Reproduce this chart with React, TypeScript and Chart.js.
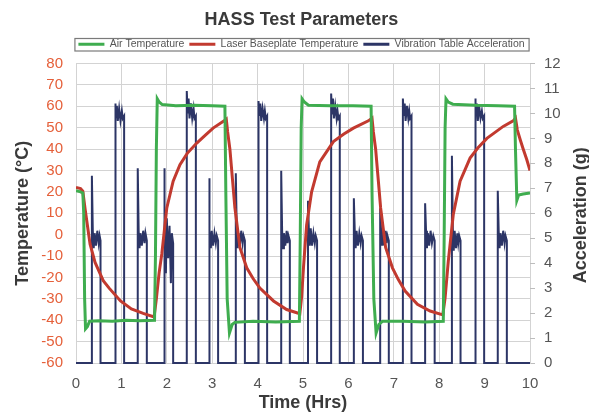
import { useEffect, useRef } from 'react';
import { Chart, registerables } from 'chart.js';

Chart.register(...registerables);

// ---------- data ----------
const chartTitle = 'HASS Test Parameters';
const seriesLabels = ['Air Temperature', 'Laser Baseplate Temperature', 'Vibration Table Acceleration'];
const hourTicks = [0, 1, 2, 3, 4, 5, 6, 7, 8, 9, 10];
const tempTicks = [-60, -50, -40, -30, -20, -10, 0, 10, 20, 30, 40, 50, 60, 70, 80];
const accTicks = [0, 1, 2, 3, 4, 5, 6, 7, 8, 9, 10, 11, 12];

const airTime = [0, 0.1, 0.15, 0.17, 0.19, 0.21, 0.25, 0.3, 0.5, 0.8, 1.1, 1.4, 1.73, 1.75, 1.77, 1.79, 1.83, 1.9, 2.2, 2.6, 3.0, 3.28, 3.3, 3.33, 3.38, 3.44, 3.5, 3.9, 4.4, 4.92, 4.94, 4.96, 4.98, 5.03, 5.12, 5.6, 6.1, 6.5, 6.52, 6.56, 6.61, 6.67, 6.75, 7.2, 7.7, 8.09, 8.11, 8.13, 8.15, 8.2, 8.3, 8.8, 9.3, 9.66, 9.68, 9.71, 9.75, 9.85, 10];
const airTemp = [20.5, 20, 19.5, 10, -30, -44, -43, -40.5, -40.2, -40.5, -40, -40.3, -40, -10, 40, 63.5, 62, 60.8, 60.3, 60.5, 60.2, 60, 20, -30, -46, -42, -41, -40.5, -40.8, -40.5, 0, 50, 63.5, 62, 60.5, 60.3, 60.3, 60, 20, -30, -46, -42, -40.5, -40.5, -40.8, -40.5, 0, 50, 63.5, 62, 61, 60.5, 60.3, 60, 40, 16, 18.5, 19, 19.5];

const laserTime = [0, 0.1, 0.15, 0.2, 0.24, 0.31, 0.42, 0.6, 0.73, 0.98, 1.22, 1.48, 1.72, 1.77, 1.83, 1.89, 2.0, 2.14, 2.29, 2.45, 2.66, 2.85, 3.02, 3.28, 3.31, 3.34, 3.39, 3.45, 3.5, 3.61, 3.76, 3.9, 4.05, 4.35, 4.64, 4.93, 4.97, 5.01, 5.08, 5.19, 5.37, 5.67, 5.9, 6.11, 6.44, 6.52, 6.55, 6.6, 6.66, 6.71, 6.82, 6.97, 7.1, 7.25, 7.52, 7.8, 8.08, 8.13, 8.2, 8.31, 8.46, 8.68, 8.85, 9.05, 9.41, 9.63, 9.68, 9.72, 9.79, 9.85, 9.93, 10];
const laserTemp = [22, 21.5, 20.3, 12, 6, -4.5, -13, -21.5, -25, -31, -34.7, -36.8, -38.5, -30, -18, -9, 12.5, 25, 32.7, 38, 42.8, 46.5, 49.8, 53.5, 54, 48, 40, 25, 12.5, -6, -15.5, -20.5, -25, -31, -35, -37, -29, -15.5, 4.5, 20, 34, 43.5, 47, 49.8, 53.2, 54.5, 48, 40, 25, 12.5, -6, -15.5, -21, -26.4, -32.6, -35.7, -37.5, -29.5, -12.5, 9.4, 25, 35.8, 40.5, 45, 50.6, 53.2, 54.5, 49, 44, 40, 35, 30];

const vibTime = [
  0,
  0.35, 0.35, 0.37, 0.39, 0.41, 0.44, 0.47, 0.50, 0.52, 0.54, 0.54,
  0.86, 0.86, 0.88, 0.90, 0.92, 0.95, 0.98, 1.01, 1.03, 1.06, 1.06,
  1.36, 1.36, 1.38, 1.40, 1.42, 1.45, 1.48, 1.51, 1.53, 1.56, 1.56,
  1.94, 1.94, 1.96, 1.98, 2.00, 2.03, 2.06, 2.09, 2.11, 2.14, 2.14,
  2.44, 2.44, 2.46, 2.48, 2.50, 2.53, 2.56, 2.59, 2.61, 2.64, 2.64,
  2.93, 2.93, 2.95, 2.97, 2.99, 3.02, 3.05, 3.08, 3.10, 3.13, 3.13,
  3.52, 3.52, 3.54, 3.56, 3.58, 3.61, 3.64, 3.67, 3.69, 3.72, 3.72,
  4.02, 4.02, 4.04, 4.06, 4.08, 4.11, 4.14, 4.16, 4.18, 4.21, 4.21,
  4.52, 4.52, 4.54, 4.56, 4.58, 4.61, 4.64, 4.66, 4.68, 4.71, 4.71,
  5.11, 5.11, 5.13, 5.15, 5.17, 5.20, 5.23, 5.26, 5.28, 5.31, 5.31,
  5.62, 5.62, 5.64, 5.66, 5.68, 5.71, 5.74, 5.76, 5.78, 5.81, 5.81,
  6.12, 6.12, 6.14, 6.16, 6.18, 6.21, 6.24, 6.27, 6.29, 6.32, 6.32,
  6.70, 6.70, 6.72, 6.74, 6.76, 6.79, 6.82, 6.84, 6.86, 6.89, 6.89,
  7.20, 7.20, 7.22, 7.24, 7.26, 7.29, 7.32, 7.34, 7.36, 7.39, 7.39,
  7.69, 7.69, 7.71, 7.73, 7.75, 7.78, 7.81, 7.84, 7.87, 7.90, 7.90,
  8.28, 8.28, 8.30, 8.32, 8.34, 8.37, 8.40, 8.42, 8.44, 8.47, 8.47,
  8.79, 8.79, 8.81, 8.83, 8.85, 8.88, 8.91, 8.94, 8.96, 8.99, 8.99,
  9.29, 9.29, 9.31, 9.33, 9.35, 9.38, 9.41, 9.44, 9.46, 9.49, 9.49,
  10,
];
const vibAcc = [
  0,
  0, 7.5, 5.3, 4.6, 5.2, 4.7, 5.3, 4.8, 5.1, 4.9, 0,
  0, 10.4, 9.8, 10.3, 9.7, 10.2, 9.7, 10.1, 9.8, 9.9, 0,
  0, 7.8, 5.3, 4.6, 5.2, 4.7, 5.3, 4.8, 5.2, 4.9, 0,
  0, 7.8, 5.6, 3.6, 5.8, 4.2, 5.5, 3.2, 5.2, 4.8, 0,
  0, 10.9, 10.0, 10.6, 9.8, 10.4, 9.8, 10.2, 9.8, 9.9, 0,
  0, 7.4, 5.3, 4.6, 5.3, 4.7, 5.2, 4.8, 5.1, 4.9, 0,
  0, 7.6, 5.4, 4.6, 5.2, 4.7, 5.3, 4.8, 5.1, 4.9, 0,
  0, 10.5, 9.9, 10.4, 9.7, 10.2, 9.8, 10.1, 9.8, 9.9, 0,
  0, 7.7, 5.3, 4.6, 5.2, 4.7, 5.3, 4.8, 5.1, 4.9, 0,
  0, 6.5, 5.3, 4.7, 5.4, 4.7, 5.2, 4.8, 5.1, 4.9, 0,
  0, 10.8, 10.0, 10.6, 9.8, 10.3, 9.8, 10.1, 9.8, 9.9, 0,
  0, 6.6, 5.3, 4.6, 5.3, 4.7, 5.2, 4.8, 5.1, 4.9, 0,
  0, 6.2, 5.3, 4.7, 5.2, 4.7, 5.3, 4.8, 5.1, 4.9, 0,
  0, 10.6, 9.9, 10.4, 9.7, 10.3, 9.8, 10.1, 9.8, 9.9, 0,
  0, 6.4, 5.3, 4.6, 5.2, 4.7, 5.3, 4.8, 5.1, 4.9, 0,
  0, 8.3, 5.4, 4.5, 5.3, 4.6, 5.2, 4.8, 5.1, 4.9, 0,
  0, 10.6, 9.9, 10.4, 9.7, 10.3, 9.8, 10.1, 9.8, 9.9, 0,
  0, 6.9, 5.3, 4.6, 5.2, 4.7, 5.3, 4.8, 5.1, 4.9, 0,
  0,
];

// ---------- styling ----------
const FONT = "'Liberation Sans', Arial, Helvetica, sans-serif";
const GREEN = '#3fad4f';
const RED = '#c23a2f';
const NAVY = '#2c3566';
const GRID = '#d3d3d3';
const TEXT = '#3a3a3a';

const pairs = (xs: number[], ys: number[]) => xs.map((x, i) => ({ x, y: ys[i] }));

const legendBoxPlugin = {
  id: 'legendBox',
  afterDraw(chart: any) {
    const lg = chart.legend;
    if (!lg || !lg.legendHitBoxes || !lg.legendHitBoxes.length) return;
    const hb = lg.legendHitBoxes;
    const left = hb[0].left - 4;
    const right = hb[hb.length - 1].left + hb[hb.length - 1].width + 4;
    const top = hb[0].top - 1;
    const bottom = hb[0].top + hb[0].height + 1;
    const ctx = chart.ctx;
    ctx.save();
    ctx.strokeStyle = '#7a7a7a';
    ctx.lineWidth = 1.2;
    ctx.strokeRect(left + 0.5, top + 0.5, right - left, bottom - top);
    ctx.restore();
  },
};

const rightTitlePlugin = {
  id: 'rightTitle',
  afterDraw(chart: any) {
    const ca = chart.chartArea;
    const ctx = chart.ctx;
    ctx.save();
    ctx.translate(581, (ca.top + ca.bottom) / 2 + 2);
    ctx.rotate(-Math.PI / 2);
    ctx.font = `bold 18px ${FONT}`;
    ctx.fillStyle = TEXT;
    ctx.textAlign = 'center';
    ctx.textBaseline = 'middle';
    ctx.fillText('Acceleration (g)', 0, 0);
    ctx.restore();
  },
};

export default function App() {
  const ref = useRef<HTMLCanvasElement>(null);

  useEffect(() => {
    if (!ref.current) return;
    Chart.defaults.font.family = FONT;
    const chart = new Chart(ref.current, {
      type: 'line',
      data: {
        datasets: [
          {
            label: seriesLabels[0],
            data: pairs(airTime, airTemp),
            borderColor: GREEN,
            backgroundColor: GREEN,
            borderWidth: 3,
            pointRadius: 0,
            tension: 0,
            yAxisID: 'y',
          },
          {
            label: seriesLabels[1],
            data: pairs(laserTime, laserTemp),
            borderColor: RED,
            backgroundColor: RED,
            borderWidth: 3,
            pointRadius: 0,
            tension: 0,
            yAxisID: 'y',
          },
          {
            label: seriesLabels[2],
            data: pairs(vibTime, vibAcc),
            borderColor: NAVY,
            backgroundColor: NAVY,
            borderWidth: 2,
            pointRadius: 0,
            tension: 0,
            yAxisID: 'y1',
            clip: 6,
          },
        ],
      },
      options: {
        animation: false,
        responsive: false,
        devicePixelRatio: 1,
        events: [],
        layout: { padding: { left: 14, right: 0, top: 4, bottom: 0 } },
        plugins: {
          title: {
            display: true,
            text: chartTitle,
            color: TEXT,
            font: { size: 18, weight: 'bold', family: FONT, lineHeight: 1.2 },
            padding: { top: 5, bottom: 3.4 },
          },
          subtitle: {
            display: true,
            text: '',
            font: { size: 2, lineHeight: 1 },
            padding: 1,
            weight: 500,
          } as any,
          legend: {
            display: true,
            position: 'top',
            labels: {
              boxWidth: 26,
              boxHeight: 3,
              padding: 5,
              color: '#555',
              font: { size: 10.5, family: FONT },
              generateLabels: (c: any) =>
                c.data.datasets.map((ds: any, i: number) => ({
                  text: ds.label,
                  fillStyle: ds.borderColor,
                  strokeStyle: ds.borderColor,
                  lineWidth: 0,
                  hidden: false,
                  datasetIndex: i,
                  fontColor: '#555',
                })),
            },
          },
          tooltip: { enabled: false },
        },
        scales: {
          x: {
            type: 'linear',
            min: 0,
            max: 10,
            afterBuildTicks: (s: any) => {
              s.ticks = hourTicks.map((v) => ({ value: v }));
            },
            afterFit: (s: any) => {
              s.height = 49;
            },
            ticks: { color: '#555', font: { size: 15 }, padding: 12, autoSkip: false, maxRotation: 0 },
            grid: { color: GRID, drawTicks: false },
            border: { color: GRID },
            title: {
              display: true,
              text: 'Time (Hrs)',
              color: TEXT,
              font: { size: 18, weight: 'bold', lineHeight: 1 },
              padding: 0,
            },
          },
          y: {
            type: 'linear',
            position: 'left',
            min: -60,
            max: 80,
            afterBuildTicks: (s: any) => {
              s.ticks = tempTicks.map((v) => ({ value: v }));
            },
            afterFit: (s: any) => {
              s.width = 62;
            },
            ticks: { color: '#e5603a', font: { size: 15 }, padding: 13, autoSkip: false },
            grid: { color: GRID, drawTicks: false },
            border: { color: GRID },
            title: {
              display: true,
              text: 'Temperature (°C)',
              color: TEXT,
              font: { size: 18, weight: 'bold', lineHeight: 1 },
              padding: 0,
            },
          },
          y1: {
            type: 'linear',
            position: 'right',
            min: 0,
            max: 12,
            afterBuildTicks: (s: any) => {
              s.ticks = accTicks.map((v) => ({ value: v }));
            },
            afterFit: (s: any) => {
              s.width = 59;
            },
            ticks: { color: '#555', font: { size: 15 }, padding: 9, autoSkip: false },
            grid: { drawOnChartArea: false, drawTicks: true, tickLength: 5, color: '#bdbdbd' },
            border: { display: false },
          },
        },
      },
      plugins: [legendBoxPlugin, rightTitlePlugin],
    } as any);
    return () => chart.destroy();
  }, []);

  return (
    <div style={{ position: 'absolute', left: 0, top: 0, width: 589, height: 412, background: '#fff' }}>
      <canvas ref={ref} width={589} height={412} style={{ display: 'block', width: 589, height: 412 }} />
    </div>
  );
}
